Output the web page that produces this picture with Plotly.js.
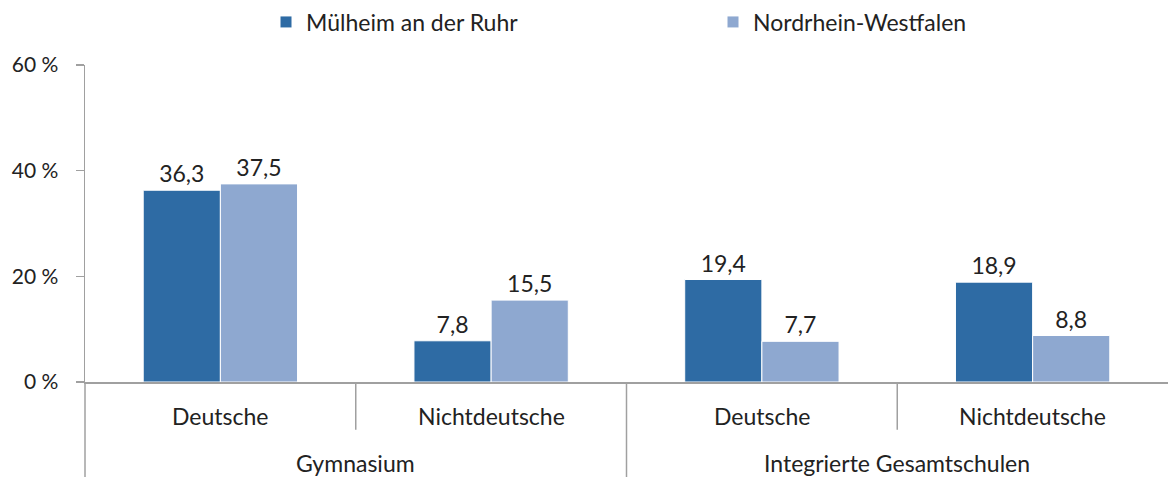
<!DOCTYPE html>
<html>
<head>
<meta charset="utf-8">
<script src="https://cdn.plot.ly/plotly-3.0.1.min.js"></script>
<style>html,body{margin:0;padding:0;background:#fff;}#chart{width:1168px;height:477px;}</style>
</head>
<body>
<div id="chart"></div>
<script>
const groups = ["Gymnasium", "Gymnasium", "Integrierte Gesamtschulen", "Integrierte Gesamtschulen"];
const subgroups = ["Deutsche", "Nichtdeutsche", "Deutsche", "Nichtdeutsche"];
const groupLabels = ["Gymnasium", "Integrierte Gesamtschulen"];
const seriesNames = ["Mülheim an der Ruhr", "Nordrhein-Westfalen"];
const muelheim = [36.3, 7.8, 19.4, 18.9];
const nrw = [37.5, 15.5, 7.7, 8.8];
const yTicks = [0, 20, 40, 60];
const yTickText = ["0 %", "20 %", "40 %", "60 %"];

const fam = "Lato, 'Open Sans', sans-serif";
const font = {family: fam, size: 23, color: "#222"};
const colors = ["#2E6BA4", "#8EA8D0"];

const traces = [muelheim, nrw].map((vals, i) => ({
  type: "bar",
  name: seriesNames[i],
  x: [groups, subgroups],
  y: vals,
  marker: {color: colors[i], line: {color: "#fff", width: 1}},
  texttemplate: "%{y:.1f}",
  textposition: "outside",
  textfont: {family: fam, size: 23, color: "#222"},
  cliponaxis: false,
  hoverinfo: "none"
}));

const shapes = [];
const lineStyle = {color: "#A0A0A0", width: 1.5};
[0.25, 0.75].forEach(p => shapes.push({type: "line", xref: "paper", yref: "paper", x0: p, x1: p, y0: 0, y1: -0.151, line: lineStyle}));
[0, 0.5].forEach(p => shapes.push({type: "line", xref: "paper", yref: "paper", x0: p, x1: p, y0: 0, y1: -0.31, line: lineStyle}));

const annotations = [];
subgroups.forEach((s, i) => annotations.push({text: s, xref: "paper", yref: "paper",
  x: (i + 0.5) / subgroups.length, y: -0.107, xanchor: "center", yanchor: "middle",
  showarrow: false, font: font}));
groupLabels.forEach((g, i) => annotations.push({text: g, xref: "paper", yref: "paper",
  x: (i + 0.5) / groupLabels.length, y: -0.256, xanchor: "center", yanchor: "middle",
  showarrow: false, font: font}));

const layout = {
  width: 1168, height: 477,
  margin: {l: 85, r: 0, t: 65, b: 95},
  font: font,
  separators: ",.",
  paper_bgcolor: "#fff", plot_bgcolor: "#fff",
  barmode: "group",
  bargap: 0.43,
  bargroupgap: 0,
  showlegend: true,
  legend: {orientation: "h", xref: "container", yref: "container", x: 266 / 1168, xanchor: "left",
           y: 1 - 22 / 477, yanchor: "middle",
           entrywidth: 402, entrywidthmode: "pixels", font: {family: fam, size: 23, color: "#222"}},
  xaxis: {type: "multicategory", showline: true, linecolor: "#A0A0A0", linewidth: 1.5,
          showdividers: false, ticks: "", showticklabels: false, showgrid: false, zeroline: false},
  yaxis: {range: [0, 60], tickvals: yTicks, ticktext: yTickText, showline: true, linecolor: "#A0A0A0",
          linewidth: 1.5, ticks: "outside", ticklen: 8, tickcolor: "#A0A0A0", tickwidth: 1.5,
          ticklabelstandoff: 13, showgrid: false, zeroline: false,
          tickfont: {family: fam, size: 21, color: "#222"}, automargin: false},
  shapes: shapes,
  annotations: annotations
};

Plotly.newPlot("chart", traces, layout, {displayModeBar: false, staticPlot: true});
</script>
</body>
</html>
